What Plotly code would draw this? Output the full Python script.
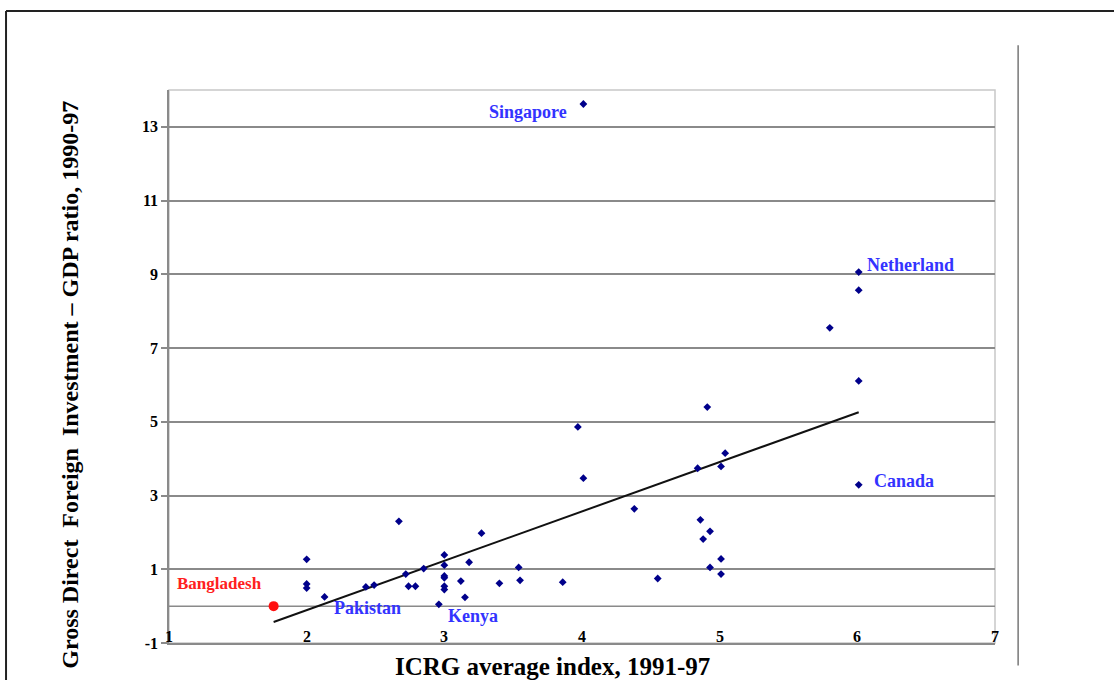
import plotly.graph_objects as go

# ---- data ----
icrg = [2.00, 2.00, 2.00, 2.13, 2.43, 2.49, 2.67, 2.72, 2.74, 2.79, 2.85, 2.96,
        3.00, 3.00, 3.00, 3.00, 3.00, 3.00, 3.12, 3.15, 3.18, 3.27, 3.40, 3.54,
        3.55, 3.86, 3.97, 4.01, 4.01, 4.38, 4.55, 4.84, 4.86, 4.88, 4.91, 4.93,
        4.93, 5.01, 5.01, 5.01, 5.04, 5.80, 6.01, 6.01, 6.01, 6.01]
fdi = [1.27, 0.60, 0.49, 0.25, 0.52, 0.57, 2.30, 0.87, 0.54, 0.54, 1.02, 0.05,
       1.39, 1.11, 0.82, 0.77, 0.54, 0.45, 0.68, 0.24, 1.19, 1.98, 0.62, 1.05,
       0.70, 0.65, 4.86, 3.47, 13.62, 2.64, 0.75, 3.74, 2.34, 1.82, 5.40, 2.03,
       1.05, 3.79, 1.28, 0.87, 4.15, 7.55, 9.06, 8.57, 6.11, 3.29]

bangladesh_x = [1.76]
bangladesh_y = [0.0]

trend_x = [1.76, 6.01]
trend_y = [-0.43, 5.26]

labeled_countries = ["Singapore", "Netherland", "Canada", "Pakistan", "Kenya"]
labeled_index = [28, 42, 45, 3, 11]

x_ticks = [1, 2, 3, 4, 5, 6, 7]
y_ticks = [-1, 1, 3, 5, 7, 9, 11, 13]

x_title = "ICRG average index, 1991-97"
y_title = "Gross Direct\u00a0 Foreign\u00a0 Investment \u2013 GDP ratio, 1990-97"

# ---- figure ----
SERIF = "Liberation Serif, Times New Roman, serif"
NAVY = "#00008b"
LABEL_BLUE = "#3333ff"
GRID = "#8a8a8a"

fig = go.Figure()

fig.add_trace(go.Scatter(x=trend_x, y=trend_y, mode="lines",
                         line=dict(color="#111111", width=2), showlegend=False,
                         hoverinfo="skip"))
fig.add_trace(go.Scatter(x=icrg, y=fdi, mode="markers",
                         marker=dict(symbol="diamond", size=6, color=NAVY),
                         showlegend=False))
fig.add_trace(go.Scatter(x=bangladesh_x, y=bangladesh_y, mode="markers",
                         marker=dict(symbol="circle", size=10, color="#ff1010"),
                         showlegend=False))

# label offsets (pixels) : xanchor, xshift, yshift
label_style = {
    "Singapore": ("right", -14, -8),
    "Netherland": ("left", 6, 7),
    "Canada": ("left", 13, 4),
    "Pakistan": ("left", 7, -11),
    "Kenya": ("left", 7, -12),
}
annotations = []
for name, idx in zip(labeled_countries, labeled_index):
    anchor, xs, ys = label_style[name]
    annotations.append(dict(x=icrg[idx], y=fdi[idx], text="<b>%s</b>" % name,
                            showarrow=False, xanchor=anchor, yanchor="middle",
                            xshift=xs, yshift=ys,
                            font=dict(family=SERIF, size=18, color=LABEL_BLUE)))
annotations.append(dict(x=bangladesh_x[0], y=bangladesh_y[0], text="<b>Bangladesh</b>",
                        showarrow=False, xanchor="right", yanchor="middle",
                        xshift=-10, yshift=23,
                        font=dict(family=SERIF, size=17, color="#ff2020")))

# x tick labels sit just above the bottom line, as in the reference
for t in x_ticks:
    annotations.append(dict(x=t, y=y_ticks[0], text="<b>%d</b>" % t, showarrow=False,
                            xanchor="center", yanchor="middle", yshift=7,
                            font=dict(family=SERIF, size=16, color="black")))

# axis titles
annotations.append(dict(xref="paper", yref="paper", x=0.4637, y=-0.043,
                        text="<b>%s</b>" % x_title, showarrow=False,
                        xanchor="center", yanchor="middle",
                        font=dict(family=SERIF, size=25, color="black")))
annotations.append(dict(xref="paper", yref="paper", x=-0.1199, y=0.467,
                        text="<b>%s</b>" % y_title, showarrow=False, textangle=-90,
                        xanchor="center", yanchor="middle",
                        font=dict(family=SERIF, size=24, color="black")))

shapes = [
    # plot area border (light)
    dict(type="rect", xref="paper", yref="paper", x0=0, x1=1, y0=0, y1=1,
         line=dict(color="#c8c8c8", width=1.5), layer="below"),
    # zero line
    dict(type="line", xref="paper", yref="y", x0=0, x1=1, y0=0, y1=0,
         line=dict(color=GRID, width=1.5), layer="below"),
    # outer frame: top and left
    dict(type="line", xref="paper", yref="paper", x0=-0.1973, x1=1.2, y0=1.143, y1=1.143,
         line=dict(color="#222222", width=2)),
    dict(type="line", xref="paper", yref="paper", x0=-0.1973, x1=-0.1973, y0=-0.1, y1=1.143,
         line=dict(color="#222222", width=2)),
    # right vertical rule
    dict(type="line", xref="paper", yref="paper", x0=1.028, x1=1.028, y0=-0.0405, y1=1.081,
         line=dict(color="#777777", width=1.5)),
]

fig.update_layout(
    width=1114, height=680,
    margin=dict(l=169, r=119, t=90, b=37),
    paper_bgcolor="white", plot_bgcolor="white",
    annotations=annotations, shapes=shapes,
    font=dict(family=SERIF, color="black"),
)
fig.update_xaxes(range=[1, 7], tickvals=x_ticks, showticklabels=False,
                 showgrid=False, zeroline=False, showline=True, linecolor=GRID,
                 linewidth=1.5, ticks="")
fig.update_yaxes(range=[-1, 14], tickvals=y_ticks, ticktext=[str(v) for v in y_ticks],
                 showgrid=True, gridcolor=GRID,
                 gridwidth=1.5, zeroline=False, showline=True, linecolor=GRID,
                 linewidth=1.5, ticks="outside", ticklen=6, tickcolor=GRID,
                 tickwidth=1.5,
                 tickfont=dict(family=SERIF, size=16, color="black", weight="bold"))

fig.write_html("out.html", config={"displayModeBar": False},
               post_script="document.body.style.margin='0';"
                           "document.body.style.overflow='hidden';")
